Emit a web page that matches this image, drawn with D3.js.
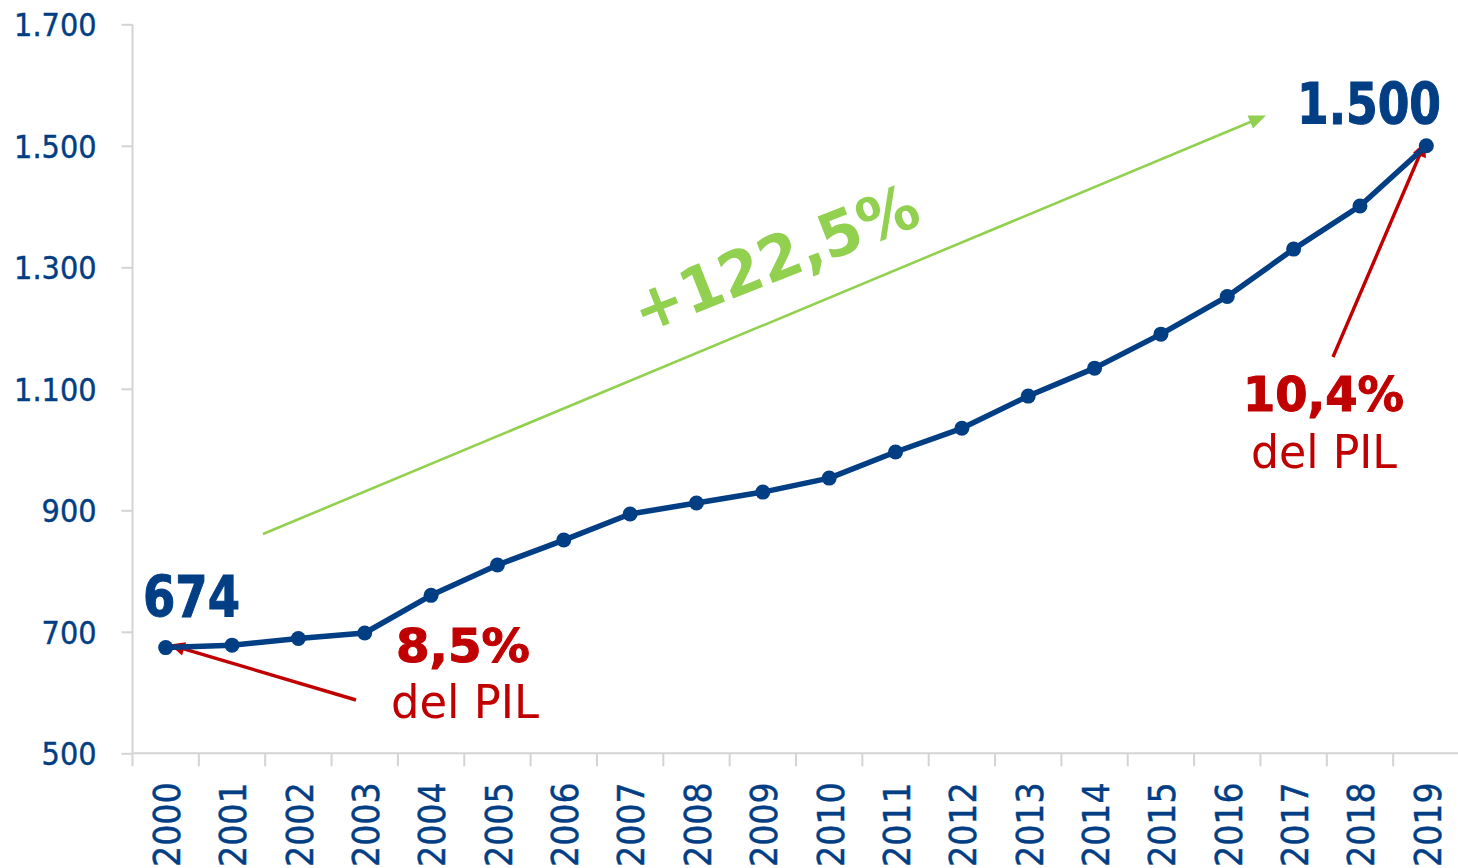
<!DOCTYPE html>
<html>
<head>
<meta charset="utf-8">
<script src="https://cdn.jsdelivr.net/npm/d3@7"></script>
<style>
  html, body { margin: 0; padding: 0; background: #ffffff; }
  svg { display: block; }
  text { font-family: "DejaVu Sans Condensed", "DejaVu Sans", sans-serif; font-stretch: condensed; }
</style>
</head>
<body>
<svg id="chart" width="1458" height="868"></svg>
<script>
// ---- Data ----
const years = ["2000","2001","2002","2003","2004","2005","2006","2007","2008","2009",
               "2010","2011","2012","2013","2014","2015","2016","2017","2018","2019"];
const values = [674, 678, 689, 698, 760, 810, 851, 894, 912, 930,
                953, 996, 1035, 1088, 1134, 1190, 1252, 1330, 1401, 1500];
const yTicks = [500, 700, 900, 1100, 1300, 1500, 1700];
const yDomain = [500, 1700];
const startLabel = "674";
const endLabel = "1.500";
const startShare = "8,5%";
const endShare = "10,4%";
const shareSuffix = "del PIL";
const growthLabel = "+122,5%";

// ---- Styles ----
const NAVY = "#023e84";
const RED = "#c00000";
const GREEN = "#92d050";
const AXIS = "#d4d4d4";

const svg = d3.select("#chart");
const plot = { left: 132.5, right: 1459.5, top: 24.3, bottom: 753.3 };

const x = d3.scaleBand().domain(years).range([plot.left, plot.right]).paddingInner(0).paddingOuter(0);
const y = d3.scaleLinear().domain(yDomain).range([plot.bottom, plot.top]);
const cx = d => x(d) + x.bandwidth() / 2;

const locale = d3.formatLocale({ decimal: ",", thousands: ".", grouping: [3], currency: ["", "€"] });
const fmt = locale.format(",d");

// ---- Y axis ----
const yAxis = svg.append("g")
  .attr("transform", `translate(${plot.left},0)`)
  .call(d3.axisLeft(y).tickValues(yTicks).tickSize(11).tickPadding(25).tickFormat(fmt));
yAxis.select(".domain").attr("stroke", AXIS).attr("stroke-width", 2)
  .attr("d", `M0,${plot.top}V${plot.bottom + 13}`);
yAxis.selectAll(".tick line").attr("stroke", AXIS).attr("stroke-width", 2);
yAxis.selectAll(".tick text")
  .attr("fill", NAVY)
  .style("font-size", "32px")
  .attr("stroke", NAVY).attr("stroke-width", 0.4)
  .attr("dy", "0.36em");

// ---- X axis ----
const xg = svg.append("g");
xg.append("line")
  .attr("x1", plot.left).attr("x2", plot.right)
  .attr("y1", plot.bottom).attr("y2", plot.bottom)
  .attr("stroke", AXIS).attr("stroke-width", 2);
xg.selectAll("line.xt")
  .data(years.slice(1))
  .join("line")
  .attr("class", "xt")
  .attr("x1", d => x(d)).attr("x2", d => x(d))
  .attr("y1", plot.bottom).attr("y2", plot.bottom + 13)
  .attr("stroke", AXIS).attr("stroke-width", 2);
xg.selectAll("text.xl")
  .data(years)
  .join("text")
  .attr("class", "xl")
  .attr("transform", d => `translate(${cx(d) + 1},${plot.bottom + 29}) rotate(-90)`)
  .attr("text-anchor", "end")
  .attr("dy", "0.36em")
  .attr("fill", NAVY)
  .attr("stroke", NAVY).attr("stroke-width", 0.4)
  .style("font-size", "37px")
  .text(d => d);

// ---- Arrow helper ----
function arrow(g, x1, y1, x2, y2, color, width, headLen, headW) {
  const ang = Math.atan2(y2 - y1, x2 - x1);
  const bx = x2 - headLen * Math.cos(ang), by = y2 - headLen * Math.sin(ang);
  g.append("line")
    .attr("x1", x1).attr("y1", y1).attr("x2", bx + Math.cos(ang) * 2).attr("y2", by + Math.sin(ang) * 2)
    .attr("stroke", color).attr("stroke-width", width);
  const px = -Math.sin(ang) * headW / 2, py = Math.cos(ang) * headW / 2;
  g.append("path")
    .attr("d", `M${x2},${y2}L${bx + px},${by + py}L${bx - px},${by - py}Z`)
    .attr("fill", color);
}
const ann = svg.append("g");

// ---- Green growth arrow ----
arrow(ann, 263, 534, 1266, 115.5, GREEN, 2.6, 17, 14);
ann.append("text")
  .attr("transform", "translate(775,258) rotate(-21.5)")
  .attr("text-anchor", "middle")
  .attr("dy", "0.36em")
  .attr("fill", GREEN)
  .style("font-size", "62px")
  .style("font-weight", "bold")
  .attr("textLength", 302)
  .attr("lengthAdjust", "spacingAndGlyphs")
  .text(growthLabel);

// ---- Line & points ----
const series = years.map((yr, i) => ({ yr, v: values[i] }));
svg.append("path")
  .datum(series)
  .attr("fill", "none")
  .attr("stroke", NAVY)
  .attr("stroke-width", 5.5)
  .attr("stroke-linejoin", "round")
  .attr("d", d3.line().x(d => cx(d.yr)).y(d => y(d.v)));
svg.selectAll("circle.pt")
  .data(series)
  .join("circle")
  .attr("class", "pt")
  .attr("cx", d => cx(d.yr)).attr("cy", d => y(d.v))
  .attr("r", 7.5)
  .attr("fill", NAVY);

// ---- Red arrows (share of GDP) ----
const first = series[0], last = series[series.length - 1];
arrow(ann, 356, 700, cx(first.yr) + 4, y(first.v) - 3, RED, 3.4, 15, 14);
arrow(ann, 1333, 357, cx(last.yr) - 1, y(last.v) - 4, RED, 3.4, 15, 14);

// ---- Labels ----
function label(txt, xPos, yBase, size, weight, color, len, anchor) {
  const t = svg.append("text")
    .attr("x", xPos).attr("y", yBase)
    .attr("text-anchor", anchor || "start")
    .attr("fill", color)
    .style("font-size", size + "px")
    .style("font-weight", weight)
    .text(txt);
  if (len) t.attr("textLength", len).attr("lengthAdjust", "spacingAndGlyphs");
  if (weight === "bold") t.attr("stroke", color).attr("stroke-width", 1);
  return t;
}
label(startLabel, 143, 616.5, 57, "bold", NAVY, 97);
label(endLabel, 1297, 124.3, 57, "bold", NAVY, 144);
label(startShare, 396, 662, 46, "bold", RED, 134);
label(shareSuffix, 391, 718, 47, "normal", RED, 148);
label(endShare, 1243, 411, 48, "bold", RED, 161);
label(shareSuffix, 1251, 467.5, 47, "normal", RED, 146);
</script>
</body>
</html>
